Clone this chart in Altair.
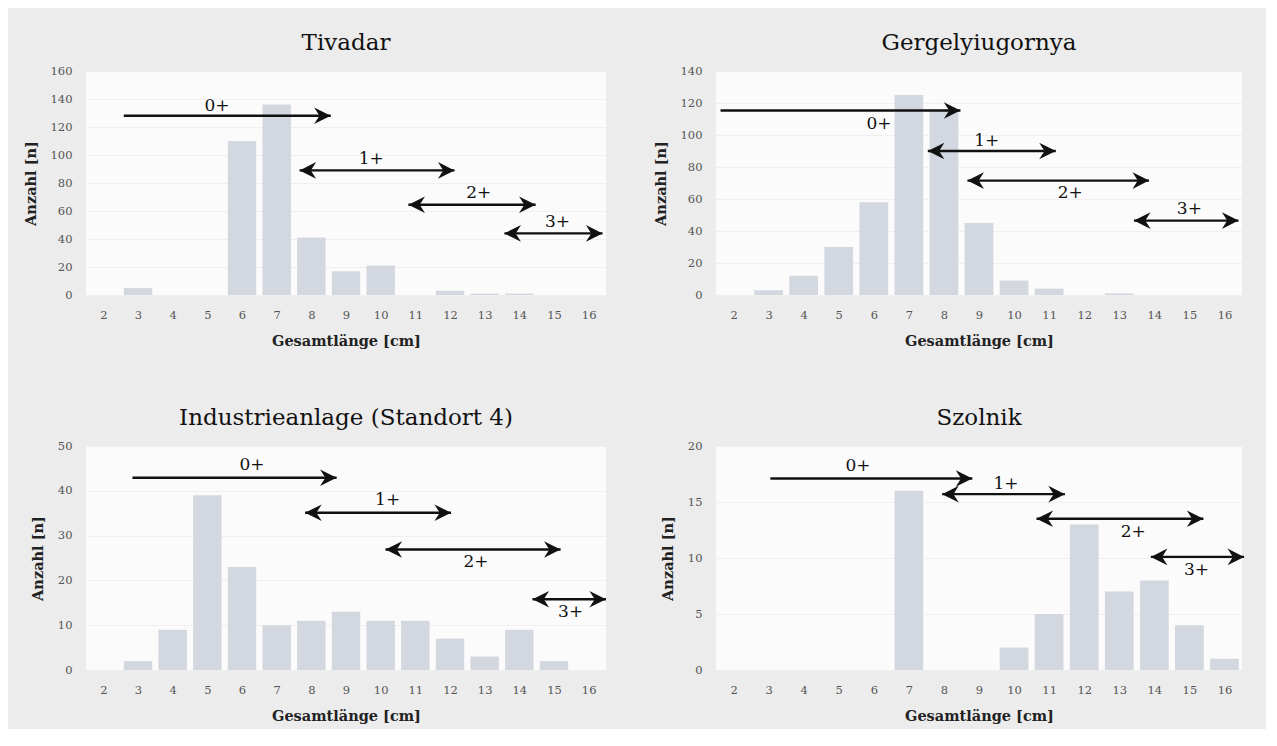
import altair as alt
import pandas as pd

# ---------------- data ----------------
LENGTHS = list(range(2, 17))

TIVADAR = [0, 5, 0, 0, 110, 136, 41, 17, 21, 0, 3, 1, 1, 0, 0]
GERGELY = [0, 3, 12, 30, 58, 125, 116, 45, 9, 4, 0, 1, 0, 0, 0]
INDUSTRIE = [0, 2, 9, 39, 23, 10, 11, 13, 11, 11, 7, 3, 9, 2, 0]
SZOLNIK = [0, 0, 0, 0, 0, 16, 0, 0, 2, 5, 13, 7, 8, 4, 1]

AGE_LABELS = ["0+", "1+", "2+", "3+"]
DOUBLE_HEAD = [False, True, True, True]

TIV_START = [2.59, 7.66, 10.8, 13.57]
TIV_END = [8.56, 12.13, 14.47, 16.4]
TIV_Y = [128, 89, 64.5, 44]
TIV_LX = [5.28, 9.73, 12.83, 15.1]
TIV_LY = [135, 97, 73, 52.5]

GER_START = [1.63, 7.54, 8.67, 13.42]
GER_END = [8.47, 11.19, 13.85, 16.4]
GER_Y = [115.3, 90, 71.5, 46.5]
GER_LX = [6.15, 9.22, 11.6, 15.0]
GER_LY = [107, 96.5, 64, 54]

IND_START = [2.84, 7.82, 10.14, 14.38]
IND_END = [8.73, 12.03, 15.19, 16.5]
IND_Y = [42.9, 35.1, 26.9, 15.8]
IND_LX = [6.29, 10.2, 12.75, 15.48]
IND_LY = [45.8, 38, 24, 13]

SZO_START = [3.05, 7.95, 10.64, 13.9]
SZO_END = [8.81, 11.45, 15.4, 16.56]
SZO_Y = [17.1, 15.7, 13.5, 10.1]
SZO_LX = [5.55, 9.77, 13.4, 15.2]
SZO_LY = [18.2, 16.6, 12.3, 8.9]

# ---------------- style ----------------
SERIF = "DejaVu Serif"
BAR = "#d3d7df"
INK = "#111111"
HEAD_RIGHT = "M0,0 L-1,-0.5 L-0.68,0 L-1,0.5 Z"
HEAD_LEFT = "M0,0 L1,-0.5 L0.68,0 L1,0.5 Z"

PLOT_H = 224


def panel(title, counts, start, end, ys, lx, ly, ymax, ystep, width):
    xscale = alt.Scale(domain=[1.5, 16.5], nice=False, zero=False)
    yscale = alt.Scale(domain=[0, ymax], nice=False)
    xaxis = alt.Axis(
        values=LENGTHS,
        title="Gesamtlänge [cm]",
        labelAngle=0,
        grid=False,
        ticks=False,
        domain=False,
        labelPadding=14,
        titlePadding=14,
        labelFlush=False,
        labelOverlap=False,
        tickCount=15,
    )
    yaxis = alt.Axis(
        values=list(range(0, ymax + 1, ystep)),
        title="Anzahl [n]",
        grid=True,
        ticks=False,
        domain=False,
        labelPadding=14,
        titlePadding=12,
        labelOverlap=False,
    )

    df = pd.DataFrame({"len": LENGTHS, "n": counts})
    bars = (
        alt.Chart(df)
        .transform_calculate(x0="datum.len - 0.41", x1="datum.len + 0.41")
        .mark_bar(color=BAR)
        .encode(
            x=alt.X("x0:Q", scale=xscale, axis=xaxis),
            x2="x1:Q",
            y=alt.Y("n:Q", scale=yscale, axis=yaxis),
            y2=alt.datum(0),
        )
    )

    adf = pd.DataFrame({"x0": start, "x1": end, "y": ys})
    rules = alt.Chart(adf).mark_rule(color=INK, strokeWidth=2.4).encode(
        x=alt.X("x0:Q", scale=xscale, axis=xaxis),
        x2="x1:Q",
        y=alt.Y("y:Q", scale=yscale, axis=yaxis),
    )

    hx, hy, hs = [], [], []
    for s, e, y, d in zip(start, end, ys, DOUBLE_HEAD):
        hx.append(e)
        hy.append(y)
        hs.append(HEAD_RIGHT)
        if d:
            hx.append(s)
            hy.append(y)
            hs.append(HEAD_LEFT)
    hdf = pd.DataFrame({"x": hx, "y": hy, "shape": hs})
    heads = alt.Chart(hdf).mark_point(
        filled=True, color=INK, opacity=1, size=1100, strokeWidth=0
    ).encode(
        x=alt.X("x:Q", scale=xscale, axis=xaxis),
        y=alt.Y("y:Q", scale=yscale, axis=yaxis),
        shape=alt.Shape("shape:N", scale=None),
    )

    ldf = pd.DataFrame({"x": lx, "y": ly, "label": AGE_LABELS})
    labels = alt.Chart(ldf).mark_text(
        font=SERIF, fontSize=17, color=INK, baseline="middle"
    ).encode(
        x=alt.X("x:Q", scale=xscale, axis=xaxis),
        y=alt.Y("y:Q", scale=yscale, axis=yaxis),
        text="label:N",
    )

    return alt.layer(bars, rules, heads, labels).properties(
        width=width,
        height=PLOT_H,
        title=alt.TitleParams(
            text=title,
            font=SERIF,
            fontSize=23,
            fontWeight=500,
            color=INK,
            anchor="middle",
            offset=10,
        ),
    )


p1 = panel("Tivadar", TIVADAR, TIV_START, TIV_END, TIV_Y, TIV_LX, TIV_LY, 160, 20, 520)
p2 = panel("Gergelyiugornya", GERGELY, GER_START, GER_END, GER_Y, GER_LX, GER_LY, 140, 20, 526)
p3 = panel("Industrieanlage (Standort 4)", INDUSTRIE, IND_START, IND_END, IND_Y, IND_LX, IND_LY, 50, 10, 520)
p4 = panel("Szolnik", SZOLNIK, SZO_START, SZO_END, SZO_Y, SZO_LX, SZO_LY, 20, 5, 526)

chart = (
    alt.concat(p1, p2, p3, p4, columns=2, spacing=alt.RowColnumber(row=59, column=45))
    .properties(
        background="#ececec",
        padding={"left": 15, "top": 24, "right": 20, "bottom": 6},
    )
    .configure_view(fill="#fbfbfb", stroke=None)
    .configure_axis(
        labelFont=SERIF,
        labelFontSize=11.5,
        labelColor="#555555",
        titleFont=SERIF,
        titleFontSize=14.5,
        titleFontWeight="bold",
        titleColor="#222222",
        gridColor="#efefef",
    )
)

chart.save("out.html", embed_options={"renderer": "svg", "actions": False})
